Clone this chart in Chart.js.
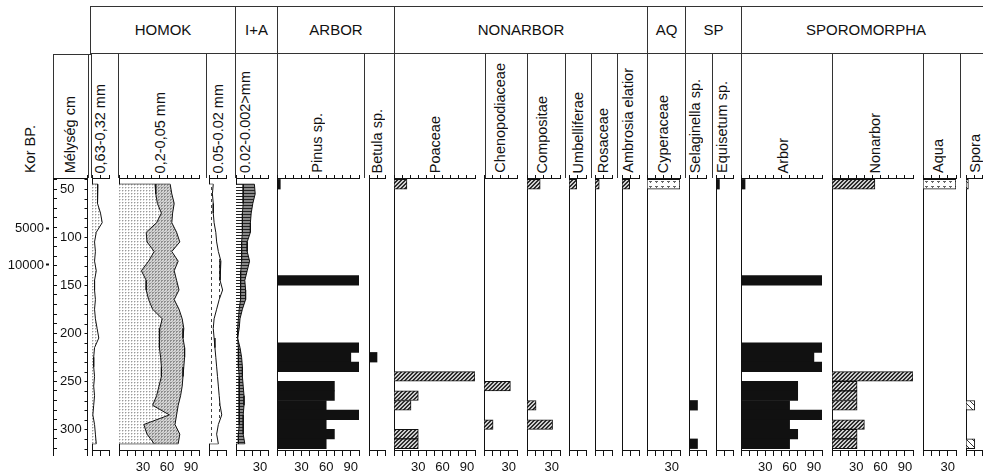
<!DOCTYPE html>
<html>
<head>
<meta charset="utf-8">
<script src="https://cdn.jsdelivr.net/npm/chart.js@4.4.0/dist/chart.umd.min.js"></script>
<style>
  html, body { margin: 0; padding: 0; background: #fff; }
  body { width: 983px; height: 475px; position: relative; overflow: hidden;
         font-family: "Liberation Sans", Arial, sans-serif; color: #111; }
  .grp { position: absolute; top: 6px; height: 48px; box-sizing: border-box;
         border-top: 1px solid #333; border-bottom: 1px solid #333; border-left: 1px solid #333;
         font-size: 15px; line-height: 46px; text-align: center; }
  .vl { position: absolute; width: 0; border-left: 1px solid #333; }
  .hl { position: absolute; height: 0; border-top: 1px solid #333; }
  .col { position: absolute; font-size: 14.5px; line-height: 16px; white-space: nowrap;
         writing-mode: vertical-rl; transform: rotate(180deg); }
  canvas { position: absolute; }
</style>
</head>
<body>
<script>
// ---- pollen samples (depth in cm) ----
const sampleDepths = [45, 145, 215, 225, 235, 245, 255, 265, 275, 285, 295, 305, 315];
const pinus        = [4, 100, 100, 90, 100, null, 70, 70, 60, 100, 60, 70, 60];
const betula       = [null, null, null, 10, null, null, null, null, null, null, null, null, null];
const poaceae      = [16, null, null, null, null, 100, null, 30, 21, null, null, 30, 30];
const chenopod     = [null, null, null, null, null, null, 32, null, null, null, 11, null, null];
const compositae   = [16, null, null, null, null, null, null, null, 11, null, 31, null, null];
const umbellif     = [9, null, null, null, null, null, null, null, null, null, null, null, null];
const rosaceae     = [5, null, null, null, null, null, null, null, null, null, null, null, null];
const ambrosia     = [9, null, null, null, null, null, null, null, null, null, null, null, null];
const cyperaceae   = [40, null, null, null, null, null, null, null, null, null, null, null, null];
const selaginella  = [null, null, null, null, null, null, null, null, 10, null, null, null, 10];
const equisetum    = [4, null, null, null, null, null, null, null, null, null, null, null, null];
const arborSum     = [5, 100, 100, 90, 100, null, 70, 70, 60, 100, 60, 70, 60];
const nonarborSum  = [53, null, null, null, null, 100, 31, 31, 31, null, 40, 31, 31];
const aquaSum      = [40, null, null, null, null, null, null, null, null, null, null, null, null];
const sporaSum     = [3, null, null, null, null, null, null, null, 11, null, null, null, 11];

// ---- grain size (%), every 10 cm ----
const sedDepths  = [45, 55, 65, 75, 85, 95, 105, 115, 125, 135, 145, 155, 165, 175,
                    185, 195, 205, 215, 225, 235, 245, 255, 265, 275, 285, 295, 305, 315];
const coarseSand = [7, 6, 7, 10, 12, 5, 3, 4, 3, 5, 3, 3, 4, 3, 4, 6, 8, 3, 2, 2, 3, 2, 3, 2, 1, 3, 4, 5];
const fineSandA  = [45, 46, 48, 53, 47, 34, 35, 44, 37, 28, 34, 34, 37, 42,
                    54, 51, 50, 51, 52, 53, 53, 50, 47, 42, 63, 31, 35, 44];
const fineSandB  = [64, 66, 69, 67, 66, 72, 76, 66, 74, 69, 72, 75, 69, 75,
                    79, 81, 80, 82, 82, 81, 80, 79, 77, 74, 72, 70, 76, 74];
const coarseSilt = [5, 4, 5, 5, 6, 8, 9, 11, 14, 13, 13, 16, 12, 9, 6, 5, 6, 7, 8, 9, 10, 11, 12, 13, 15, 11, 9, 11];
const clayA      = [9, 9, 9, 8, 8, 8, 7, 7, 7, 6, 6, 6, 5, 4, 3, 2, 2, 3, 3, 3, 4, 4, 4, 4, 4, 4, 3, 3];
const clayB      = [23, 24, 21, 19, 18, 18, 14, 14, 17, 14, 11, 12, 12, 8, 5, 4, 2, 5, 7, 8, 8, 9, 10, 10, 9, 9, 9, 11];

// ---- age axis ----
const ageDepths = [91, 129];
const ageLabels = ['5000', '10000'];

// ---- header texts ----
const groupNames  = ['HOMOK', 'I+A', 'ARBOR', 'NONARBOR', 'AQ', 'SP', 'SPOROMORPHA'];
const groupEdges  = [90, 235, 277, 394, 647, 685, 741, 990];
const columnNames = ['Kor BP.', 'Mélység cm', '0,63-0,32 mm', '0,2-0,05 mm', '0.05-0.02 mm', '0.02-0.002>mm',
                     'Pinus sp.', 'Betula sp.', 'Poaceae', 'Chenopodiaceae', 'Compositae', 'Umbelliferae',
                     'Rosaceae', 'Ambrosia elatior', 'Cyperaceae', 'Selaginella sp.', 'Equisetum sp.',
                     'Arbor', 'Nonarbor', 'Aqua', 'Spora'];
const columnCenters = [30, 70, 100, 160, 218, 245, 317, 377, 435, 500, 542, 578, 603, 628, 663, 695, 722,
                       783, 875, 938, 975];
const dividers = [53, 88, 91, 118, 206, 235, 277, 364, 394, 485, 527, 565, 591, 617, 647, 685, 712, 741, 832, 923, 960];

Chart.defaults.font.family = '"Liberation Sans", Arial, sans-serif';
Chart.defaults.font.size = 13;
Chart.defaults.color = '#111';

const TOP = 178, BOTTOM = 450;
const AXIS_TOP = 3, AXIS_BOTTOM = 24;
const DEPTH_MIN = 38.5, DEPTH_MAX = 321.5;
const INK = '#111';

// header
function el(cls, css, text) {
    const d = document.createElement('div');
    d.className = cls;
    Object.assign(d.style, css);
    if (text) d.textContent = text;
    document.body.appendChild(d);
    return d;
}
groupNames.forEach((g, i) => {
    el('grp', { left: groupEdges[i] + 'px', width: (groupEdges[i + 1] - groupEdges[i]) + 'px' }, g);
});
dividers.forEach(x => el('vl', { left: x + 'px', top: '54px', height: (TOP - 54) + 'px' }));
el('hl', { left: '53px', top: '54px', width: '38px' });
columnNames.forEach((name, i) => {
    el('col', { left: (columnCenters[i] - 8) + 'px', bottom: (475 - 173) + 'px' }, name);
});

// fill patterns
function pattern(w, h, paint) {
    const c = document.createElement('canvas');
    c.width = w; c.height = h;
    const g = c.getContext('2d');
    paint(g);
    return g.createPattern(c, 'repeat');
}
const fills = {
    black: INK,
    dotsLight: pattern(3, 3, g => {
        g.fillStyle = '#fff'; g.fillRect(0, 0, 3, 3);
        g.fillStyle = '#9a9a9a'; g.fillRect(0, 0, 1, 1);
        g.fillStyle = '#d6d6d6'; g.fillRect(1, 0, 1, 1); g.fillRect(0, 1, 1, 1);
    }),
    dotsDark: pattern(3, 3, g => {
        g.fillStyle = '#d4d4d4'; g.fillRect(0, 0, 3, 3);
        g.fillStyle = '#8e8e8e'; g.fillRect(0, 0, 2, 1); g.fillRect(0, 1, 1, 1);
        g.fillStyle = '#b4b4b4'; g.fillRect(2, 2, 1, 1);
    }),
    dashes: pattern(8, 6, g => {
        g.fillStyle = '#fff'; g.fillRect(0, 0, 8, 6);
        g.fillStyle = '#444'; g.fillRect(2, 0, 1, 3);
    }),
    linesLight: pattern(4, 3, g => {
        g.fillStyle = '#fff'; g.fillRect(0, 0, 4, 3);
        g.fillStyle = '#222'; g.fillRect(0, 0, 4, 1);
    }),
    linesDark: pattern(4, 3, g => {
        g.fillStyle = '#888'; g.fillRect(0, 0, 4, 3);
        g.fillStyle = '#222'; g.fillRect(0, 0, 4, 1);
    }),
    hatch: pattern(4, 4, g => {
        g.fillStyle = '#cfcfcf'; g.fillRect(0, 0, 4, 4);
        g.fillStyle = '#2e2e2e';
        for (let i = 0; i < 4; i++) { g.fillRect(i, 3 - i, 1, 1); g.fillRect((i + 1) % 4, 3 - i, 1, 1); }
    }),
    aqua: pattern(6, 5, g => {
        g.fillStyle = '#fff'; g.fillRect(0, 0, 6, 5);
        g.fillStyle = '#666'; g.fillRect(2, 1, 3, 1); g.fillRect(3, 2, 1, 1);
    }),
    spora: pattern(6, 6, g => {
        g.fillStyle = '#fff'; g.fillRect(0, 0, 6, 6);
        g.fillStyle = '#333';
        for (let i = 0; i < 6; i++) g.fillRect(i, i, 1, 1);
    })
};

function addCanvas(left, width) {
    const c = document.createElement('canvas');
    c.width = width;
    c.height = AXIS_TOP + (BOTTOM - TOP) + AXIS_BOTTOM;
    c.style.left = left + 'px';
    c.style.top = (TOP - AXIS_TOP) + 'px';
    document.body.appendChild(c);
    return c;
}

// fixed axis boxes, no label overhang padding
function fixBox(size) {
    return s => {
        if (s.isHorizontal()) s.height = size; else s.width = size;
        s.paddingTop = 0; s.paddingBottom = 0; s.paddingLeft = 0; s.paddingRight = 0;
    };
}

function panelScales(max) {
    const shown = max === 100 ? [30, 60, 90] : max === 40 ? [30] : [];
    return {
        x: {
            type: 'linear', position: 'bottom', min: 0, max: max,
            ticks: { stepSize: 10, autoSkip: false, maxRotation: 0, minRotation: 0, padding: 4,
                     callback: v => shown.includes(v) ? String(v) : '' },
            grid: { drawOnChartArea: false, tickLength: 6, color: INK },
            border: { color: INK },
            afterFit: fixBox(AXIS_BOTTOM)
        },
        xTop: {
            type: 'linear', position: 'top', min: 0, max: max,
            ticks: { stepSize: 10, autoSkip: false, display: false },
            grid: { drawOnChartArea: false, tickLength: 3, color: INK },
            border: { color: INK },
            afterFit: fixBox(AXIS_TOP)
        },
        y: {
            type: 'linear', reverse: true, offset: false, min: DEPTH_MIN, max: DEPTH_MAX,
            ticks: { display: false },
            grid: { display: false, drawTicks: false, offset: false },
            border: { display: true, color: INK },
            afterFit: fixBox(0)
        }
    };
}

const baseOptions = {
    responsive: false,
    animation: false,
    events: [],
    layout: { padding: { left: 0, right: 2, top: 0, bottom: 0 } },
    plugins: { legend: { display: false }, tooltip: { enabled: false } }
};

// grain size curves
const sedimentPanels = [
    { x: 92,  w: 17, max: 20,  series: [{ values: coarseSand, fill: 'origin', bg: 'dotsLight' }] },
    { x: 119, w: 80, max: 100, series: [{ values: fineSandA, fill: 'origin', bg: 'dotsLight' },
                                         { values: fineSandB, fill: '-1', bg: 'dotsDark' }] },
    { x: 209, w: 17, max: 20,  series: [{ values: coarseSilt, fill: 'origin', bg: 'dashes' }] },
    { x: 236, w: 32, max: 40,  series: [{ values: clayA, fill: 'origin', bg: 'linesLight' },
                                         { values: clayB, fill: '-1', bg: 'linesDark' }] }
];

sedimentPanels.forEach(p => {
    const datasets = p.series.map(s => ({
        data: sedDepths.map((d, i) => ({ x: s.values[i], y: d })),
        borderColor: INK, borderWidth: 1, pointRadius: 0, tension: 0,
        fill: s.fill, backgroundColor: fills[s.bg],
        xAxisID: 'x', yAxisID: 'y'
    }));
    // closing strokes at the first and last sample
    const outer = p.series[p.series.length - 1].values;
    const n = sedDepths.length;
    datasets.push({
        data: [{ x: 0, y: sedDepths[0] }, { x: outer[0], y: sedDepths[0] }, { x: null, y: sedDepths[1] },
               { x: 0, y: sedDepths[n - 1] }, { x: outer[n - 1], y: sedDepths[n - 1] }],
        borderColor: INK, borderWidth: 1, pointRadius: 0, fill: false, spanGaps: false,
        xAxisID: 'x', yAxisID: 'y'
    });
    new Chart(addCanvas(p.x, p.w + 2), {
        type: 'line',
        data: { datasets },
        options: Object.assign({ indexAxis: 'y', scales: panelScales(p.max) }, baseOptions)
    });
});

// pollen bars
const pollenPanels = [
    { x: 277, w: 82, max: 100, values: pinus,       bg: 'black' },
    { x: 369, w: 16, max: 20,  values: betula,      bg: 'black' },
    { x: 394, w: 81, max: 100, values: poaceae,     bg: 'hatch' },
    { x: 484, w: 33, max: 40,  values: chenopod,    bg: 'hatch' },
    { x: 527, w: 33, max: 40,  values: compositae,  bg: 'hatch' },
    { x: 569, w: 17, max: 20,  values: umbellif,    bg: 'hatch' },
    { x: 595, w: 17, max: 20,  values: rosaceae,    bg: 'hatch' },
    { x: 622, w: 17, max: 20,  values: ambrosia,    bg: 'hatch' },
    { x: 647, w: 33, max: 40,  values: cyperaceae,  bg: 'aqua' },
    { x: 689, w: 17, max: 20,  values: selaginella, bg: 'black' },
    { x: 716, w: 17, max: 20,  values: equisetum,   bg: 'black' },
    { x: 741, w: 81, max: 100, values: arborSum,    bg: 'black' },
    { x: 832, w: 81, max: 100, values: nonarborSum, bg: 'hatch' },
    { x: 923, w: 33, max: 40,  values: aquaSum,     bg: 'aqua' },
    { x: 966, w: 16, max: 20,  values: sporaSum,    bg: 'spora' }
];

pollenPanels.forEach(p => {
    new Chart(addCanvas(p.x, p.w + 2), {
        type: 'bar',
        data: {
            datasets: [{
                data: sampleDepths.map((d, i) => ({ x: p.values[i], y: d })),
                backgroundColor: fills[p.bg],
                borderColor: INK,
                borderWidth: p.bg === 'black' ? 0 : 1,
                barPercentage: 1, categoryPercentage: 1,
                xAxisID: 'x', yAxisID: 'y'
            }]
        },
        options: Object.assign({ indexAxis: 'y', scales: panelScales(p.max) }, baseOptions)
    });
});

// depth and age axes
const depthRule = {
    id: 'depthRule',
    afterDraw(chart) {
        const s = chart.scales.depth;
        const ctx = chart.ctx;
        const x = chart.width - 0.5;
        ctx.save();
        ctx.strokeStyle = INK;
        ctx.lineWidth = 1;
        ctx.beginPath();
        ctx.moveTo(x, s.top - 3);
        ctx.lineTo(x, s.bottom + 6);
        s.ticks.forEach(t => {
            const y = Math.round(s.getPixelForValue(t.value)) + 0.5;
            ctx.moveTo(x, y);
            ctx.lineTo(x - 3, y);
        });
        ctx.moveTo(s.left, s.top + 0.5);
        ctx.lineTo(x, s.top + 0.5);
        ctx.moveTo(s.left + 0.5, s.bottom);
        ctx.lineTo(s.left + 0.5, s.bottom + 6);
        ctx.stroke();
        ctx.restore();
    }
};

new Chart(addCanvas(0, 88), {
    type: 'line',
    data: { datasets: [{ data: [], xAxisID: 'x', yAxisID: 'depth' }] },
    options: {
        responsive: false,
        animation: false,
        events: [],
        layout: { padding: { top: AXIS_TOP, bottom: AXIS_BOTTOM, left: 0, right: 0 } },
        plugins: { legend: { display: false }, tooltip: { enabled: false } },
        scales: {
            x: { type: 'linear', display: false },
            age: {
                type: 'linear', position: 'left', reverse: true, min: DEPTH_MIN, max: DEPTH_MAX,
                afterBuildTicks: s => { s.ticks = ageDepths.map(v => ({ value: v })); },
                ticks: { autoSkip: false, padding: 2, callback: (v, i) => ageLabels[i] },
                grid: { drawOnChartArea: false, tickLength: 3, tickWidth: 2, color: INK },
                border: { display: false },
                afterFit: fixBox(49)
            },
            depth: {
                type: 'linear', position: 'right', reverse: true, min: DEPTH_MIN, max: DEPTH_MAX,
                ticks: { stepSize: 10, includeBounds: false, autoSkip: false, padding: 3,
                         callback: v => v % 50 === 0 ? String(v) : '' },
                grid: { drawOnChartArea: false, tickLength: 4, color: INK },
                border: { color: INK },
                afterFit: fixBox(35)
            }
        }
    },
    plugins: [depthRule]
});
</script>
</body>
</html>
